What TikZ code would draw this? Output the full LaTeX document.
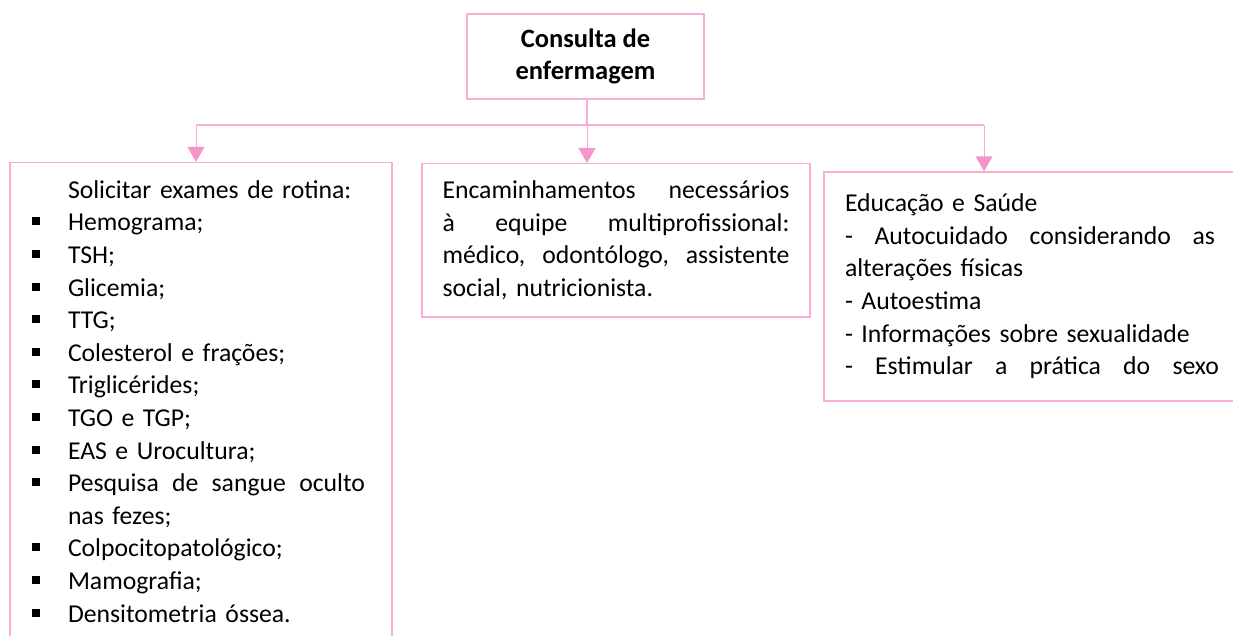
\documentclass[tikz,border=0pt]{standalone}
\usepackage{fontspec}
\setmainfont{Carlito}
\usetikzlibrary{arrows.meta,positioning}
\definecolor{rosa}{RGB}{250,172,214}
\definecolor{rosaesc}{RGB}{244,150,200}

\tikzset{caixa/.style={draw=rosa, line width=1.5pt, inner sep=0pt, align=left,
    font=\fontsize{25.7}{32.6}\selectfont},
  liga/.style={draw=rosa, line width=1.5pt},
  seta/.style={liga, line width=1pt, -{Triangle[width=17pt,length=15pt,fill=rosaesc,color=rosaesc]}}}
\newcommand{\marca}{\makebox[36pt][l]{\raisebox{5.5pt}{\rule{8pt}{8pt}}}}

\begin{document}
\begin{tikzpicture}[x=1pt,y=-1pt]
\useasboundingbox (0,0) rectangle (1233,636);
\clip (0,0) rectangle (1233,636);

\node[caixa, align=center, minimum width=237pt, minimum height=85pt,
  font=\fontsize{26.5}{31.5}\selectfont\bfseries] (consulta) at (585.5,56.5)
  {Consulta de\\enfermagem};

\node[caixa, minimum width=382pt, minimum height=477.5pt, text width=338pt] (exames) at (201,401.4)
  {\hspace*{36pt}Solicitar exames de rotina:\\
   \marca Hemograma;\\
   \marca TSH;\\
   \marca Glicemia;\\
   \marca TTG;\\
   \marca Colesterol e frações;\\
   \marca Triglicérides;\\
   \marca TGO e TGP;\\
   \marca EAS e Urocultura;\\
   \marca\makebox[297pt][l]{Pesquisa\hfill de\hfill sangue\hfill oculto}\\
   \hspace*{36pt}nas fezes;\\
   \marca Colpocitopatológico;\\
   \marca Mamografia;\\
   \marca Densitometria óssea.};

\node[caixa, minimum width=388pt, minimum height=153.3pt, text width=347pt] (encaminha) at (616,240.4)
  {\makebox[347pt][l]{Encaminhamentos\hfill necessários}\\
   \makebox[347pt][l]{à\hfill equipe\hfill multiprofissional:}\\
   \makebox[347pt][l]{médico,\hfill odontólogo,\hfill assistente}\\
   social, nutricionista.};

\node[caixa, minimum width=416pt, minimum height=228.7pt, text width=374pt] (educacao) at (1032,286.4)
  {Educação e Saúde\\
   \makebox[370pt][l]{-\hfill Autocuidado\hfill considerando\hfill as}\\
   alterações físicas\\
   - Autoestima\\
   - Informações sobre sexualidade\\
   \makebox[374pt][l]{-\hfill Estimular\hfill a\hfill prática\hfill do\hfill sexo}\\[-5pt]};

% ligacoes
\coordinate (eixo) at (587,125);
\coordinate (ramoE) at (196,125);
\coordinate (ramoD) at (984,125);
\draw[liga] (consulta.south -| eixo) -- (eixo);
\draw[liga] (ramoE) -- (ramoD);
\draw[seta] (ramoE) -- (ramoE |- exames.north);
\draw[seta] (eixo) -- (eixo |- encaminha.north);
\draw[seta] (ramoD) -- (ramoD |- educacao.north);
\end{tikzpicture}
\end{document}
